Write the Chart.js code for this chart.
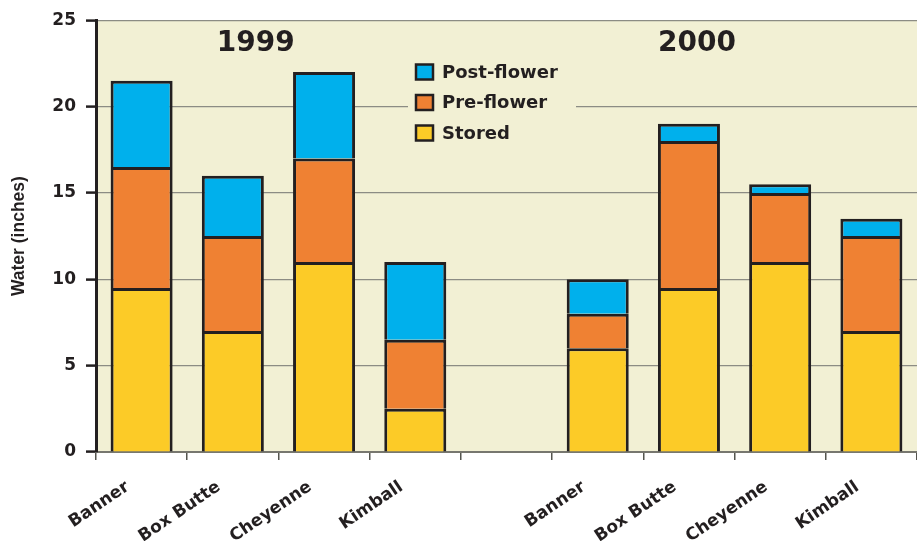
<!DOCTYPE html>
<html>
<head>
<meta charset="utf-8">
<script src="https://cdn.jsdelivr.net/npm/chart.js@4/dist/chart.umd.min.js"></script>
<style>
  html, body { margin: 0; padding: 0; background: #ffffff; overflow: hidden; }
  #wrap { width: 917px; height: 541px; position: relative; }
</style>
</head>
<body>
<div id="wrap"><canvas id="waterchart" width="917" height="541"></canvas></div>
<script>
// counties for each year, blank slot between 1999 and 2000
var counties = ['Banner', 'Box Butte', 'Cheyenne', 'Kimball', '', 'Banner', 'Box Butte', 'Cheyenne', 'Kimball'];
var stored     = [9.5, 7, 11, 2.5, null, 6, 9.5, 11, 7];
var preFlower  = [7, 5.5, 6, 4, null, 2, 8.5, 4, 5.5];
var postFlower = [5, 3.5, 5, 4.5, null, 2, 1, 0.5, 1];
var yTicks = [0, 5, 10, 15, 20, 25];
var years = ['1999', '2000'];

var dark = '#231f20';
var font = '"DejaVu Sans", Arial, sans-serif';
var narrow = '"Liberation Sans", Arial, sans-serif';

// pale yellow plot background
var areaBg = {
    id: 'areaBg',
    beforeDraw: function(chart) {
        var a = chart.chartArea, ctx = chart.ctx;
        ctx.save();
        ctx.fillStyle = '#f2f0d4';
        ctx.fillRect(a.left, a.top, a.right - a.left, a.bottom - a.top);
        ctx.restore();
    }
};

// year headings and legend inside the plot
var extras = {
    id: 'extras',
    afterDatasetsDraw: function(chart) {
        var ctx = chart.ctx, x = chart.scales.x, a = chart.chartArea;
        ctx.save();
        ctx.fillStyle = dark;
        ctx.font = 'bold 28px ' + font;
        ctx.textAlign = 'center';
        ctx.textBaseline = 'middle';
        ctx.fillText(years[0], x.getPixelForValue(1) + 23, a.top + 24);
        ctx.fillText(years[1], x.getPixelForValue(6) + 8, a.top + 24);

        // legend box hides the grid line behind it
        ctx.fillStyle = '#f2f0d4';
        ctx.fillRect(408, 58, 168, 90);
        var sets = chart.data.datasets.slice().reverse();
        ctx.font = 'bold 18px ' + font;
        ctx.textAlign = 'left';
        for (var i = 0; i < sets.length; i++) {
            var y = 72 + i * 30.5;
            ctx.fillStyle = sets[i].backgroundColor;
            ctx.fillRect(416, y - 7.5, 17, 15);
            ctx.lineWidth = 2.5;
            ctx.strokeStyle = dark;
            ctx.strokeRect(416, y - 7.5, 17, 15);
            ctx.fillStyle = dark;
            ctx.fillText(sets[i].label, 442, y + 1);
        }
        ctx.restore();
    }
};

var barStyle = { borderColor: dark, borderWidth: 3, borderSkipped: 'start', barPercentage: 0.68, categoryPercentage: 1 };

var ctx = document.getElementById('waterchart').getContext('2d');
var waterChart = new Chart(ctx, {
    type: 'bar',
    data: {
        labels: counties,
        datasets: [
            Object.assign({ label: 'Stored', data: stored, backgroundColor: '#fccb27' }, barStyle),
            Object.assign({ label: 'Pre-flower', data: preFlower, backgroundColor: '#ef8133' }, barStyle),
            Object.assign({ label: 'Post-flower', data: postFlower, backgroundColor: '#00b0ec' }, barStyle)
        ]
    },
    options: {
        responsive: false,
        animation: false,
        layout: { padding: { top: 18, right: 0, left: 0, bottom: 0 } },
        plugins: { legend: { display: false }, tooltip: { enabled: false } },
        scales: {
            x: {
                stacked: true,
                afterFit: function(s) { s.height = 89; },
                border: { color: '#77776f', width: 2 },
                grid: { offset: true, drawOnChartArea: false, tickLength: 8, tickColor: '#55554f', lineWidth: 1.5 },
                ticks: {
                    color: dark, font: { family: font, size: 17, weight: 'bold' },
                    minRotation: 34, maxRotation: 34, labelOffset: -14, padding: 17, autoSkip: false
                }
            },
            y: {
                stacked: true,
                min: 0, max: 25,
                afterFit: function(s) { s.width = 96; },
                afterBuildTicks: function(s) { s.ticks = yTicks.map(function(v) { return { value: v }; }); },
                border: { color: dark, width: 3 },
                grid: { color: '#8c8c84', lineWidth: 1.2, tickLength: 10, tickColor: dark, tickWidth: 2.5 },
                ticks: { color: dark, font: { family: font, size: 17, weight: 'bold' }, padding: 10 },
                title: { display: true, text: 'Water (inches)', color: dark, font: { family: narrow, size: 17.5, weight: 'bold' }, padding: { top: 9, bottom: 4 } }
            }
        }
    },
    plugins: [areaBg, extras]
});
</script>
</body>
</html>
